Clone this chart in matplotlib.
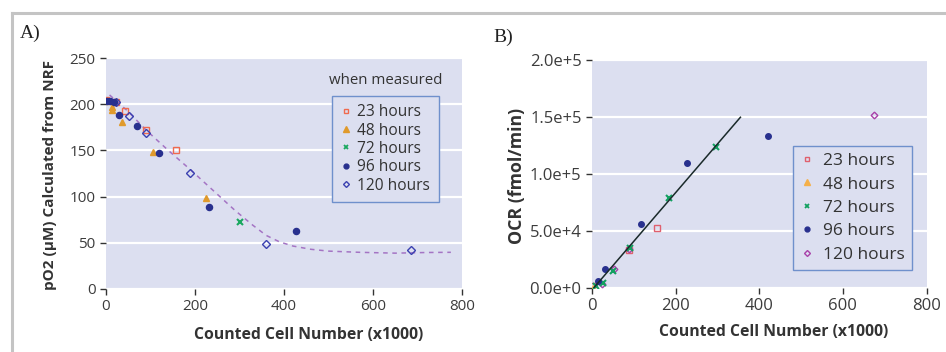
import matplotlib
matplotlib.use("Agg")
import matplotlib.pyplot as plt
from matplotlib.lines import Line2D

# ---------------- Panel A data: pO2 (uM) vs counted cells (x1000) ----------------
a23_x = [0, 22, 43, 91, 158]
a23_y = [205, 202, 193, 172, 150]
a48_x = [5, 13, 14, 35, 105, 224]
a48_y = [203, 197, 194, 181, 148, 99]
a72_x = [300]
a72_y = [73]
a96_x = [2, 9, 17, 30, 70, 118, 232, 426]
a96_y = [204, 203, 202, 188, 176, 147, 89, 63]
a120_x = [22, 52, 89, 189, 359, 685]
a120_y = [202, 187, 169, 126, 49, 42]
# dashed trend curve
curve_x = [8, 50, 90, 140, 190, 240, 290, 330, 360, 390, 420, 460, 500, 570, 650, 720, 775]
curve_y = [210, 192, 172, 150, 129, 107, 85, 69, 58, 51, 46.5, 43, 41, 39.7, 38.8, 39.5, 39.7]

# ---------------- Panel B data: OCR (fmol/min) vs counted cells (x1000) ----------------
b23_x = [0, 89, 156]
b23_y = [1000, 32900, 52600]
b48_x = [3]
b48_y = [0]
b72_x = [10, 26, 50, 91, 184, 297]
b72_y = [1100, 4000, 14600, 34400, 78500, 123700]
b96_x = [14, 31, 118, 228, 420]
b96_y = [5500, 16700, 55800, 109600, 133700]
b120_x = [23, 53, 88, 675]
b120_y = [3000, 16400, 33500, 152000]
fit_x = [5, 355]
fit_y = [0, 150000]

series_labels = ["23 hours", "48 hours", "72 hours", "96 hours", "120 hours"]
a_ticks_x = [0, 200, 400, 600, 800]
a_ticks_y = [0, 50, 100, 150, 200, 250]
b_ticks_y = [0, 50000, 100000, 150000, 200000]
b_ticklabels_y = ["0.0e+0", "5.0e+4", "1.0e+5", "1.5e+5", "2.0e+5"]

plt.rcParams['font.family'] = ['Open Sans', 'DejaVu Sans']

W, H = 946, 352
fig = plt.figure(figsize=(W / 100, H / 100), dpi=100)
fig.patch.set_facecolor('white')

BG = '#dcdff0'
TICKC = '#3c3c3c'
LABC = '#333333'


def fx(px):
    return px / W


def fy(py):
    return 1 - py / H


# frame lines
fig.add_artist(Line2D([fx(12), 1.0], [fy(13), fy(13)], color='#c4c4c4', lw=2.2))
fig.add_artist(Line2D([fx(12), fx(12)], [0, fy(13)], color='#c4c4c4', lw=2.2))

axA = fig.add_axes([fx(106), fy(289), fx(462 - 106), (289 - 58) / H])
axB = fig.add_axes([fx(592), fy(287.5), fx(926.5 - 592), (287.5 - 60.5) / H])

for ax in (axA, axB):
    ax.set_facecolor(BG)
    for s in ax.spines.values():
        s.set_visible(False)
    ax.grid(axis='y', color='white', lw=1.6)
    ax.set_axisbelow(True)
    ax.tick_params(axis='both', direction='out', length=4, width=1, color='#333333',
                   labelcolor=TICKC)

# ---------- Panel A ----------
axA.plot(curve_x, curve_y, ls=(0, (3, 3)), color='#a474c4', lw=1.1, zorder=2)
ms = 4.4
axA.plot(a23_x, a23_y, 's', mfc='none', mec='#f06a4e', mew=1.0, ms=ms, ls='none', zorder=3)
axA.plot(a48_x, a48_y, '^', color='#e09a2c', ms=ms + 0.6, ls='none', zorder=3)
axA.plot(a72_x, a72_y, 'x', color='#1aa860', mew=1.5, ms=ms, ls='none', zorder=3)
axA.plot(a96_x, a96_y, 'o', color='#28308e', ms=ms, ls='none', zorder=4)
axA.plot(a120_x, a120_y, 'D', mfc='none', mec='#3a40b0', mew=1.0, ms=ms - 0.6, ls='none', zorder=3)
axA.set_xlim(0, 800)
axA.set_ylim(0, 250)
axA.set_xticks(a_ticks_x)
axA.set_yticks(a_ticks_y)
axA.tick_params(axis='both', labelsize=11)

hA = [Line2D([], [], marker='s', mfc='none', mec='#f06a4e', mew=1.0, ms=3.5, ls='none'),
      Line2D([], [], marker='^', color='#e09a2c', ms=4, ls='none'),
      Line2D([], [], marker='x', color='#1aa860', mew=1.3, ms=3.5, ls='none'),
      Line2D([], [], marker='o', color='#28308e', ms=3.5, ls='none'),
      Line2D([], [], marker='D', mfc='none', mec='#3a40b0', mew=1.0, ms=3, ls='none')]
legA = fig.legend(hA, series_labels, loc='upper left', bbox_to_anchor=(fx(331.7), fy(95.7)),
                  bbox_transform=fig.transFigure, fontsize=11.2, frameon=True, fancybox=False,
                  borderaxespad=0, handlelength=0.8, handletextpad=0.3, labelspacing=0.15,
                  borderpad=0.55)
legA.get_frame().set_edgecolor('#6f90cc')
legA.get_frame().set_facecolor(BG)
legA.get_frame().set_alpha(1)
legA.get_frame().set_linewidth(1.0)
for t in legA.get_texts():
    t.set_color('#333333')

fig.text(fx(442.7), fy(81), "when measured", ha='right', va='center', fontsize=10.8, color='#333333')

# ---------- Panel B ----------
axB.plot(fit_x, fit_y, '-', color='#1a2a2a', lw=1.1, zorder=5)
axB.plot(b23_x, b23_y, 's', mfc='none', mec='#e0606e', mew=1.0, ms=3.8, ls='none', zorder=3)
axB.plot(b48_x, b48_y, '^', color='#f5b04a', ms=4.2, ls='none', zorder=3)
axB.plot(b120_x, b120_y, 'D', mfc='none', mec='#a840a8', mew=1.0, ms=3.4, ls='none', zorder=3)
axB.plot(b72_x, b72_y, 'x', color='#12a060', mew=1.5, ms=4.2, ls='none', zorder=4)
axB.plot(b96_x, b96_y, 'o', color='#28308e', ms=4.0, ls='none', zorder=4)
axB.set_xlim(0, 800)
axB.set_ylim(0, 200000)
axB.set_xticks(a_ticks_x)
axB.set_yticks(b_ticks_y)
axB.set_yticklabels(b_ticklabels_y)
axB.tick_params(axis='both', labelsize=12)

hB = [Line2D([], [], marker='s', mfc='none', mec='#e0606e', mew=1.0, ms=3.5, ls='none'),
      Line2D([], [], marker='^', color='#f5b04a', ms=4, ls='none'),
      Line2D([], [], marker='x', color='#12a060', mew=1.3, ms=3.5, ls='none'),
      Line2D([], [], marker='o', color='#28308e', ms=3.5, ls='none'),
      Line2D([], [], marker='D', mfc='none', mec='#a840a8', mew=1.0, ms=3, ls='none')]
legB = fig.legend(hB, series_labels, loc='upper left', bbox_to_anchor=(fx(793.3), fy(146)),
                  bbox_transform=fig.transFigure, fontsize=12.5, frameon=True, fancybox=False,
                  borderaxespad=0, handlelength=0.8, handletextpad=0.5, labelspacing=0.42,
                  borderpad=0.4)
legB.get_frame().set_edgecolor('#6f90cc')
legB.get_frame().set_facecolor(BG)
legB.get_frame().set_alpha(1)
legB.get_frame().set_linewidth(1.0)
for t in legB.get_texts():
    t.set_color('#333333')

# ---------- labels ----------
fig.text(fx(309), fy(335), "Counted Cell Number (x1000)", ha='center', va='center',
         fontsize=11.3, fontweight='bold', color=LABC)
fig.text(fx(774), fy(332), "Counted Cell Number (x1000)", ha='center', va='center',
         fontsize=11.3, fontweight='bold', color=LABC)
fig.text(fx(50), fy(174.5), "pO2 (µM) Calculated from NRF", ha='center', va='center',
         rotation=90, fontsize=11.0, fontweight='bold', color=LABC)
fig.text(fx(517), fy(176), "OCR (fmol/min)", ha='center', va='center',
         rotation=90, fontsize=12.8, fontweight='bold', color=LABC)

fig.text(fx(20), fy(33), "A)", ha='left', va='center', fontsize=14,
         family=['Liberation Serif', 'DejaVu Serif'], color='#222222')
fig.text(fx(493), fy(37), "B)", ha='left', va='center', fontsize=14,
         family=['Liberation Serif', 'DejaVu Serif'], color='#222222')

fig.savefig("out.png", dpi=100)
